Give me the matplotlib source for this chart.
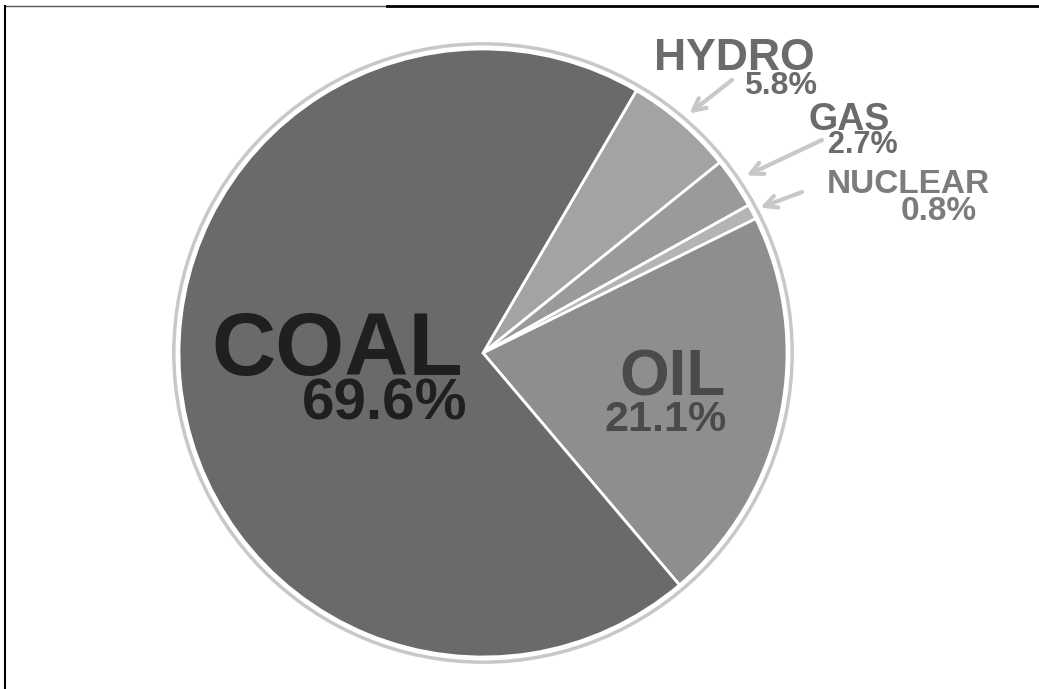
import numpy as np
import matplotlib
matplotlib.use("Agg")
import matplotlib.pyplot as plt
from matplotlib.patches import Circle
from matplotlib.lines import Line2D

# dati
labels = ['HYDRO', 'GAS', 'NUCLEAR', 'OIL', 'COAL']
values = [5.8, 2.7, 0.8, 21.1, 69.6]
colors = ['#a3a3a3', '#9a9a9a', '#b4b4b4', '#8e8e8e', '#6a6a6a']

W, H = 1039, 689
CX, CY, R = 483, 353, 304


def px(x, y):
    # pixel -> coordinate dati (centro torta = 0,0, raggio = 1)
    return (x - CX) / R, (CY - y) / R


plt.rcParams['font.family'] = ['Liberation Sans', 'DejaVu Sans']

fig = plt.figure(figsize=(W / 100, H / 100), dpi=100)
ax = fig.add_axes([0, 0, 1, 1])

wedges, _ = ax.pie(values, colors=colors, startangle=59.7, counterclock=False,
                   radius=1, wedgeprops=dict(edgecolor='white', linewidth=2))

# anello grigio esterno
ax.add_patch(Circle((0, 0), 1.017, fill=False, edgecolor='#c8c8c8', lw=2.5))

ax.set_xlim(-CX / R, (W - CX) / R)
ax.set_ylim(-(H - CY) / R, CY / R)
ax.axis('off')

# etichette: (testo, x destra, baseline, size, colore)
testi = [
    ('COAL', 463, 375, 64, '#1f1f1f'),
    ('69.6%', 467, 420, 42, '#1f1f1f'),
    ('OIL', 726, 396, 46, '#4a4a4a'),
    ('21.1%', 727, 431, 31, '#4a4a4a'),
    ('HYDRO', 815, 70, 32, '#6b6b6b'),
    ('5.8%', 817, 94, 23, '#6b6b6b'),
    ('GAS', 890, 130, 27, '#6b6b6b'),
    ('2.7%', 898, 153, 22, '#6b6b6b'),
    ('NUCLEAR', 990, 193, 24, '#7c7c7c'),
    ('0.8%', 977, 220, 24, '#7c7c7c'),
]
for t, x, y, s, c in testi:
    ax.text(*px(x, y), t, ha='right', va='baseline', fontsize=s,
            fontweight='bold', color=c)

# frecce verso le fette piccole
code = {'HYDRO': (732, 80, 1.04), 'GAS': (822, 140, 1.045), 'NUCLEAR': (802, 192, 1.03)}
for w, lab in zip(wedges, labels):
    if lab not in code:
        continue
    tx, ty, r = code[lab]
    ang = np.deg2rad((w.theta1 + w.theta2) / 2)
    ax.annotate('', xy=(r * np.cos(ang), r * np.sin(ang)), xytext=px(tx, ty),
                arrowprops=dict(arrowstyle='->', color='#c8c8c8', lw=3,
                                mutation_scale=22, shrinkA=0, shrinkB=0))

# cornice
fig.add_artist(Line2D([5 / W, 387 / W], [1 - 6 / H, 1 - 6 / H], transform=fig.transFigure,
                      color='#555555', lw=1))
fig.add_artist(Line2D([387 / W, 1], [1 - 6 / H, 1 - 6 / H], transform=fig.transFigure,
                      color='black', lw=2))
fig.add_artist(Line2D([5 / W, 5 / W], [0, 1 - 6 / H], transform=fig.transFigure,
                      color='black', lw=1.5))

plt.savefig('out.png', dpi=100)
